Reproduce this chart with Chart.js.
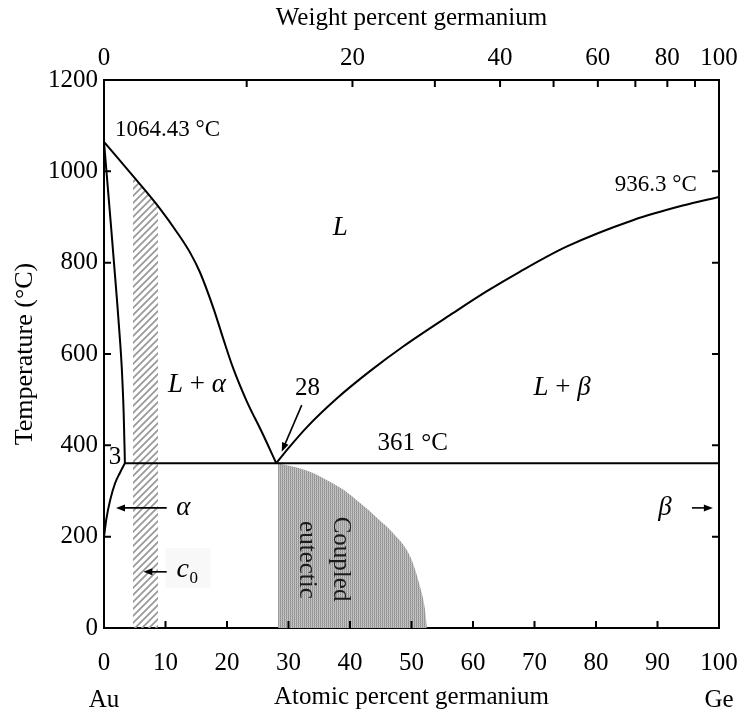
<!DOCTYPE html>
<html><head><meta charset="utf-8">
<script src="https://cdn.jsdelivr.net/npm/chart.js@4/dist/chart.umd.min.js"></script>
<style>html,body{margin:0;padding:0;background:#fff}canvas{display:block}</style>
</head><body>
<canvas id="c" width="742" height="710"></canvas>
<script>
// ---- data (atomic % Ge, temperature °C) ----
const liquidusAu   = [[0,1064.43],[4.7,990],[9,920],[12,864],[14,822],[15.6,779],[17.8,700],[19.4,633],[21,569],[23.2,497],[25.7,428],[28,361]];
const solidusAlpha = [[0,1064.43],[1.2,870],[2.1,720],[2.6,631],[2.9,567],[3.2,470],[3.4,361]];
const solvusAlpha  = [[0,200],[0.4,240],[1,280],[1.8,317],[2.6,340],[3.4,361]];
const liquidusGe   = [[28,361],[30,394],[33,440],[37.8,502],[43.3,563],[48.7,617],[56.8,690],[62.2,737],[67.6,780],[75.2,835],[86,893],[94.1,925],[100,944]];
const eutecticLine = [[3.4,361],[100,361]];
const coupledZone  = [[28.3,361],[30.8,353],[33.5,342],[36.2,324],[39,302],[41.6,274],[44.5,240],[47,208],[49.8,156],[51.4,90],[52.2,40],[52.5,0]];
const alloyBand    = [[4.7,990],[6.7,960],[8.8,926]];
const tempRange    = [0, 1200];
const atomicRange  = [0, 100];
const wtTickPositions = [0,23.2,40.4,53.8,64.4,73.1,80.3,86.4,91.6,96.1,100];
const wtTickLabels    = ['0','','20','','40','','60','','80','','100'];
const endLabels = [['Au',0],['Ge',100]];

// annotation anchors in data units
const annotations = [
  {parts:[['1064.43 °C','']], x:1.8, y:1090, align:'left', size:23},
  {parts:[['936.3 °C','']], x:96.4, y:970, align:'right', size:23},
  {parts:[['L','italic ']], x:38.4, y:876, align:'center', size:27},
  {parts:[['L','italic '],[' + ',''],['α','italic ']], x:15.1, y:533, align:'center', size:27},
  {parts:[['28','']], x:33.1, y:525, align:'center', size:25},
  {parts:[['361 °C','']], x:50.2, y:405, align:'center', size:25},
  {parts:[['L','italic '],[' + ',''],['β','italic ']], x:74.5, y:525, align:'center', size:27},
  {parts:[['3','']], x:1.8, y:373, align:'center', size:25},
  {parts:[['α','italic ']], x:12.9, y:263, align:'center', size:27},
  {parts:[['β','italic ']], x:91.2, y:263, align:'center', size:27}
];
const arrows = [
  [32.15,488,28.9,386],
  [10.2,263,1.95,263],
  [10.2,123,6.4,123],
  [95.6,263,99.0,263]
];

const FAM = '"Liberation Serif","Times New Roman",serif';
const toXY = a => a.map(p => ({x:p[0], y:p[1]}));

function hatchPattern(){
  const c = document.createElement('canvas'); c.width = 7; c.height = 7;
  const g = c.getContext('2d');
  g.strokeStyle = '#9a9a9a'; g.lineWidth = 1.8;
  g.beginPath();
  g.moveTo(-1,8); g.lineTo(8,-1);
  g.moveTo(-1,1); g.lineTo(1,-1);
  g.moveTo(6,8); g.lineTo(8,6);
  g.stroke();
  return g.createPattern(c,'repeat');
}
function ditherPattern(){
  const c = document.createElement('canvas'); c.width = 2; c.height = 2;
  const g = c.getContext('2d');
  g.fillStyle = '#8e8e8e'; g.fillRect(0,0,1,1);
  g.fillStyle = '#a2a2a2'; g.fillRect(0,1,1,1);
  g.fillStyle = '#cacaca'; g.fillRect(1,0,1,1);
  g.fillStyle = '#b6b6b6'; g.fillRect(1,1,1,1);
  return g.createPattern(c,'repeat');
}

const inTicks = {
  id:'inTicks',
  afterDraw(chart){
    const {ctx, chartArea:a, scales:s} = chart;
    const L = 7;
    ctx.save(); ctx.strokeStyle = '#000'; ctx.lineWidth = 2; ctx.beginPath();
    s.x.ticks.forEach(t => { const p = s.x.getPixelForValue(t.value); ctx.moveTo(p,a.bottom); ctx.lineTo(p,a.bottom-L); });
    s.x2.ticks.forEach(t => { const p = s.x2.getPixelForValue(t.value); ctx.moveTo(p,a.top); ctx.lineTo(p,a.top+L); });
    s.y.ticks.forEach(t => { const p = s.y.getPixelForValue(t.value); ctx.moveTo(a.left,p); ctx.lineTo(a.left+L,p); });
    s.y2.ticks.forEach(t => { const p = s.y2.getPixelForValue(t.value); ctx.moveTo(a.right,p); ctx.lineTo(a.right-L,p); });
    ctx.stroke(); ctx.restore();
  }
};

function drawParts(ctx, parts, x, y, align, size){
  let w = 0;
  parts.forEach(p => { ctx.font = p[1] + size + 'px ' + FAM; w += ctx.measureText(p[0]).width; });
  let sx = align === 'left' ? x : align === 'right' ? x - w : x - w/2;
  ctx.textAlign = 'left'; ctx.textBaseline = 'middle';
  parts.forEach(p => { ctx.font = p[1] + size + 'px ' + FAM; ctx.fillText(p[0], sx, y); sx += ctx.measureText(p[0]).width; });
}
function arrow(ctx, x1,y1,x2,y2){
  const ang = Math.atan2(y2-y1, x2-x1), h = 9, hw = 3.5;
  ctx.beginPath(); ctx.moveTo(x1,y1); ctx.lineTo(x2 - Math.cos(ang)*h*0.8, y2 - Math.sin(ang)*h*0.8); ctx.stroke();
  ctx.beginPath();
  ctx.moveTo(x2,y2);
  ctx.lineTo(x2 - Math.cos(ang)*h - Math.sin(ang)*hw, y2 - Math.sin(ang)*h + Math.cos(ang)*hw);
  ctx.lineTo(x2 - Math.cos(ang)*h + Math.sin(ang)*hw, y2 - Math.sin(ang)*h - Math.cos(ang)*hw);
  ctx.closePath(); ctx.fill();
}

const textPlugin = {
  id:'texts',
  afterDraw(chart){
    const {ctx, scales:{x,y}} = chart;
    ctx.save();
    ctx.strokeStyle = '#000'; ctx.lineWidth = 1.6;
    // faint box behind c0
    ctx.fillStyle = '#f8f8f8';
    ctx.fillRect(x.getPixelForValue(10), y.getPixelForValue(175), x.getPixelForValue(17.3)-x.getPixelForValue(10), y.getPixelForValue(88)-y.getPixelForValue(175));
    ctx.fillStyle = '#000';
    annotations.forEach(a => drawParts(ctx, a.parts, x.getPixelForValue(a.x), y.getPixelForValue(a.y), a.align, a.size));
    arrows.forEach(r => arrow(ctx, x.getPixelForValue(r[0]), y.getPixelForValue(r[1]), x.getPixelForValue(r[2]), y.getPixelForValue(r[3])));
    // c0
    const cx = x.getPixelForValue(13.4), cy = y.getPixelForValue(123);
    ctx.textAlign = 'left'; ctx.textBaseline = 'middle';
    ctx.font = 'italic 28px ' + FAM; ctx.fillText('c', cx - 10, cy - 2);
    ctx.font = '17px ' + FAM; ctx.fillText('0', cx + 3, cy + 7);
    // coupled eutectic (rotated)
    ctx.fillStyle = '#1a1a1a'; ctx.font = '25px ' + FAM; ctx.textAlign = 'center';
    [['Coupled',38.4,151],['eutectic',33.0,149]].forEach(t => {
      ctx.save(); ctx.translate(x.getPixelForValue(t[1]), y.getPixelForValue(t[2])); ctx.rotate(Math.PI/2);
      ctx.fillText(t[0], 0, 0); ctx.restore();
    });
    // Au / Ge
    ctx.fillStyle = '#000'; ctx.font = '25px ' + FAM; ctx.textAlign = 'center';
    endLabels.forEach(e => ctx.fillText(e[0], x.getPixelForValue(e[1]), 700));
    ctx.restore();
  }
};

const tickFont = {family: FAM, size: 25, lineHeight: 1.2};
const titleFont = {family: FAM, size: 25, lineHeight: 1};
const border = {display:true, color:'#000', width:2};
const noGrid = {display:false, drawTicks:false};

const lineDs = (arr) => ({data: toXY(arr), borderColor:'#000', borderWidth:2, fill:false, cubicInterpolationMode:'monotone', pointRadius:0, order:0});

new Chart(document.getElementById('c'), {
  type:'line',
  data:{datasets:[
    {data: toXY(alloyBand), borderWidth:0, borderColor:'rgba(0,0,0,0)', backgroundColor: hatchPattern(), fill:'origin', tension:0, pointRadius:0, order:10},
    {data: toXY(coupledZone), borderWidth:0, borderColor:'rgba(0,0,0,0)', backgroundColor: ditherPattern(), fill:'origin', cubicInterpolationMode:'monotone', pointRadius:0, order:9},
    lineDs(liquidusAu), lineDs(solidusAlpha), lineDs(solvusAlpha), lineDs(liquidusGe),
    Object.assign(lineDs(eutecticLine), {cubicInterpolationMode:'default', tension:0})
  ]},
  options:{
    responsive:false, animation:false, events:[],
    layout:{padding:0},
    plugins:{legend:{display:false}, tooltip:{enabled:false}},
    scales:{
      x:{type:'linear', position:'bottom', min:atomicRange[0], max:atomicRange[1],
         ticks:{stepSize:10, font:tickFont, color:'#000', padding:20, maxRotation:0, autoSkip:false},
         grid:noGrid, border:border,
         title:{display:true, text:'Atomic percent germanium', font:titleFont, color:'#000', padding:{top:0,bottom:0}},
         afterFit(s){ s.height = 82; s.paddingLeft = 0; s.paddingRight = 0; }},
      x2:{type:'linear', position:'top', min:atomicRange[0], max:atomicRange[1],
         afterBuildTicks(s){ s.ticks = wtTickPositions.map(v => ({value:v})); },
         ticks:{font:tickFont, color:'#000', padding:7, maxRotation:0, autoSkip:false, callback:(v,i) => wtTickLabels[i]},
         grid:noGrid, border:border,
         title:{display:true, text:'Weight percent germanium', font:titleFont, color:'#000', padding:{top:6,bottom:0}},
         afterFit(s){ s.height = 80; s.paddingLeft = 0; s.paddingRight = 0; }},
      y:{type:'linear', position:'left', min:tempRange[0], max:tempRange[1],
         ticks:{stepSize:200, font:tickFont, color:'#000', padding:6, callback:v => String(v)},
         grid:noGrid, border:border,
         title:{display:true, text:'Temperature (°C)', font:{family: FAM, size: 26, lineHeight: 1}, color:'#000', padding:{top:12,bottom:0}},
         afterFit(s){ s.width = 104; s.paddingTop = 0; s.paddingBottom = 0; }},
      y2:{type:'linear', position:'right', min:tempRange[0], max:tempRange[1],
         ticks:{stepSize:200, display:false},
         grid:noGrid, border:border,
         afterFit(s){ s.width = 23; }}
    }
  },
  plugins:[inTicks, textPlugin]
});
</script>
</body></html>
